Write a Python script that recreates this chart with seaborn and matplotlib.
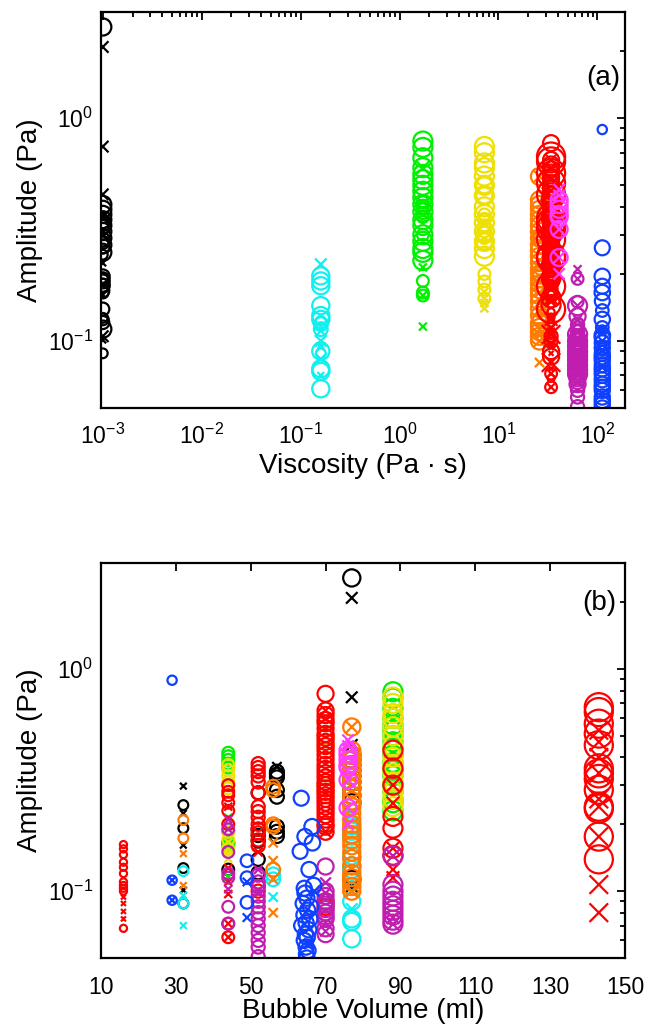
import numpy as np
import pandas as pd
import matplotlib
matplotlib.use("Agg")
import matplotlib.pyplot as plt
import seaborn as sns
from matplotlib.ticker import LogLocator, NullFormatter, FixedLocator, LogFormatterSciNotation

sns.set_theme(style="white")
plt.rcParams["font.family"] = ["Liberation Sans", "DejaVu Sans"]
plt.rcParams["mathtext.fontset"] = "custom"
plt.rcParams["mathtext.rm"] = "Liberation Sans"
plt.rcParams["mathtext.it"] = "Liberation Sans:italic"
plt.rcParams["mathtext.bf"] = "Liberation Sans:bold"
plt.rcParams["text.color"] = "black"
plt.rcParams["axes.labelcolor"] = "black"
plt.rcParams["xtick.color"] = "black"
plt.rcParams["ytick.color"] = "black"

# ---------------- data ----------------
fluids = ["black", "cyan", "green", "yellow", "orange", "red", "magenta", "purple", "blue"]
viscosity = [0.001, 0.16, 1.72, 7.2, 26.0, 34.0, 41.0, 63.0, 112.0]  # Pa s
colors = ["#000000", "#10f0f0", "#00f000", "#eee000", "#ff7a00", "#ff0000", "#ff3cff", "#c01eb0", "#1040ff"]

black_vol = [32, 32, 32, 32, 32, 32, 32, 32, 44, 44, 52, 52, 52, 52, 52, 52,
             57, 57, 57, 57, 57, 57, 57, 57, 57,
             77, 77, 77, 77, 77, 77, 77, 77, 77, 77, 77, 77, 77, 77, 77]
black_amp = [0.297, 0.244, 0.224, 0.192, 0.161, 0.127, 0.101, 0.088, 0.165, 0.125,
             0.277, 0.19, 0.178, 0.168, 0.139, 0.121,
             0.363, 0.345, 0.335, 0.325, 0.285, 0.266, 0.195, 0.185, 0.177,
             2.57, 2.09, 0.746, 0.455, 0.41, 0.39, 0.37, 0.35, 0.33, 0.31, 0.29, 0.27, 0.25, 0.113, 0.105]
black_mk = "xoxoxoxo" + "oo" + "oooooo" + "xoooooooo" + "oxxxoooooooooox"

cyan_vol = [32, 32, 32, 32, 56, 56, 56,
            77, 77, 77, 77, 77, 77, 77, 77, 77, 77, 77, 77, 77, 77]
cyan_amp = [0.123, 0.0957, 0.088, 0.07, 0.119, 0.113, 0.094,
            0.221, 0.196, 0.186, 0.177, 0.144, 0.13, 0.125, 0.111, 0.1, 0.09, 0.083, 0.075, 0.073, 0.061]
cyan_mk = "oxox" + "oox" + "xooooooxxoxooo"

green_vol = [44, 44, 44, 44, 44, 44, 44, 44, 44, 44, 44, 44,
             88, 88, 88, 88, 88, 88, 88, 88, 88, 88, 88, 88, 88, 88, 88, 88, 88, 88, 88]
green_amp = [0.42, 0.405, 0.39, 0.375, 0.36, 0.3, 0.186, 0.165, 0.16, 0.16, 0.116, 0.214,
             0.79, 0.74, 0.665, 0.6, 0.56, 0.53, 0.5, 0.47, 0.44, 0.41, 0.38, 0.35, 0.33, 0.3,
             0.28, 0.26, 0.25, 0.23, 0.6]
green_mk = "oooooooooxxx" + "oooooooooooooooooox"

yellow_vol = [44, 44, 44, 44, 44, 44, 44, 44, 44, 44, 44, 44, 44,
              70, 70, 70, 70,
              88, 88, 88, 88, 88, 88, 88, 88, 88, 88, 88, 88, 88, 88]
yellow_amp = [0.37, 0.35, 0.33, 0.31, 0.29, 0.2, 0.185, 0.17, 0.155, 0.166, 0.155, 0.148, 0.14,
              0.5, 0.45, 0.3, 0.28,
              0.747, 0.7, 0.63, 0.6, 0.55, 0.5, 0.45, 0.4, 0.37, 0.34, 0.31, 0.28, 0.26, 0.24]
yellow_mk = "oooooooooxxxx" + "oooo" + "oooooooooooooo"

orange_vol = [32, 32, 32, 32,
              56, 56, 56, 56, 56, 56, 56, 56, 56,
              77, 77, 77, 77, 77, 77, 77, 77, 77, 77, 77, 77, 77, 77, 77, 77, 77, 77,
              77, 77, 77, 77, 77, 77, 77, 77, 77, 77, 77]
orange_amp = [0.209, 0.173, 0.1475, 0.106,
              0.295, 0.285, 0.2, 0.195, 0.165, 0.137, 0.125, 0.113, 0.08,
              0.548, 0.548, 0.43, 0.41, 0.39, 0.37, 0.35, 0.33, 0.31, 0.29, 0.27, 0.255, 0.24, 0.225,
              0.21, 0.2, 0.19, 0.18, 0.17, 0.16, 0.15, 0.14, 0.13, 0.12, 0.115, 0.11, 0.105, 0.1,
              0.1, 0.065, 0.07]
orange_mk = "ooxx" + "ooooxxoxx" + "ox" + "oooooooooooooooooooooooooo" + "xxx"

red_vol = [16, 16, 16, 16, 16, 16, 16, 16, 16, 16, 16, 16, 16, 16, 16,
           44, 44, 44, 44, 44, 44, 44, 44, 44, 44, 44, 44, 44, 44,
           52, 52, 52, 52, 52, 52, 52, 52, 52, 52, 52, 52, 52, 52, 52, 52, 52,
           70, 70, 70, 70, 70, 70, 70, 70, 70, 70, 70, 70, 70, 70, 70, 70, 70, 70, 70, 70,
           70, 70, 70, 70, 70, 70, 70, 70, 70, 70, 70, 70, 70, 70, 70, 70,
           88, 88, 88, 88, 88, 88, 88, 88, 88, 88, 88, 88,
           143, 143, 143, 143, 143, 143, 143, 143, 143, 143, 143, 143, 143,
           143, 143, 143, 143, 143, 143, 143, 143, 143]
red_amp = [0.162, 0.155, 0.146, 0.135, 0.128, 0.12, 0.11, 0.106, 0.103, 0.1, 0.094, 0.088, 0.081, 0.075, 0.068,
           0.3, 0.28, 0.27, 0.25, 0.24, 0.23, 0.2, 0.127, 0.11, 0.097, 0.0714, 0.0714, 0.062, 0.062,
           0.375, 0.36, 0.345, 0.33, 0.31, 0.277, 0.24, 0.228, 0.215, 0.2, 0.19, 0.183, 0.17, 0.16, 0.15, 0.105, 0.1,
           0.773, 0.65, 0.65, 0.62, 0.59, 0.6, 0.57, 0.54, 0.51, 0.49, 0.47, 0.45, 0.43, 0.41, 0.39, 0.37,
           0.355, 0.34, 0.325, 0.31, 0.3, 0.29, 0.28, 0.27, 0.26, 0.25, 0.24, 0.23, 0.22, 0.21, 0.2, 0.195,
           0.185, 0.185, 0.09, 0.085,
           0.431, 0.357, 0.3, 0.3, 0.249, 0.217, 0.192, 0.156, 0.156, 0.145, 0.125, 0.115,
           0.673, 0.64, 0.567, 0.512, 0.454, 0.357, 0.339, 0.32, 0.286, 0.24, 0.235, 0.176, 0.139,
           0.53, 0.47, 0.4, 0.34, 0.26, 0.24, 0.176, 0.107, 0.08]
red_mk = ("ooooooooooxxxxo" + "ooooxooxxxoxox" + "ooooooooooooooxoo"
          + "ooxooxoooooooooooooooooooooooooo" + "oxoo"
          + "oooxxoooxoxx" + "ooooooooooooo" + "xxxxxxxxx")

magenta_vol = [76, 76, 76, 76, 76, 76, 76, 76, 76, 76, 76, 76]
magenta_amp = [0.478, 0.45, 0.43, 0.41, 0.39, 0.37, 0.36, 0.317, 0.317, 0.237, 0.237, 0.2]
magenta_mk = "xxooooooxoxx"

purple_vol = [44, 44, 44, 44, 44, 44, 44, 44, 44,
              52, 52, 52, 52, 52, 52, 52, 52, 52, 52, 52, 52, 52, 52, 52,
              70, 70, 70, 70, 70, 70, 70, 70, 70, 70, 70, 70, 70, 70, 70,
              88, 88, 88, 88, 88, 88, 88, 88, 88, 88, 88, 88, 88]
purple_amp = [0.21, 0.19, 0.19, 0.15, 0.12, 0.115, 0.102, 0.085, 0.0714,
              0.125, 0.118, 0.11, 0.105, 0.1, 0.095, 0.09, 0.085, 0.08, 0.075, 0.07, 0.065, 0.06, 0.056, 0.0507,
              0.129, 0.109, 0.1, 0.098, 0.095, 0.09, 0.087, 0.083, 0.08, 0.077, 0.075, 0.072, 0.068, 0.066, 0.064,
              0.144, 0.144, 0.107, 0.1, 0.095, 0.09, 0.086, 0.082, 0.078, 0.076, 0.074, 0.071, 0.071]
purple_mk = "xoxoooxoo" + "xoooxoooooooooo" + "oxoxoooooooxoxo" + "oxoooooooxoox"

blue_vol = [29, 29, 29, 29, 29, 49, 49, 49, 49, 49,
            63.5, 66.4, 64.5, 66.5, 63.2, 65.6, 66.8, 64.3, 67.0, 64.5, 65.0, 64.0, 66.0, 65.2,
            64.2, 65.8, 64.8, 63.6, 65.5, 64.6, 65.1, 64.3, 65.6, 64.8, 65.3, 64.9, 65.0]
blue_amp = [0.89, 0.112, 0.112, 0.091, 0.091, 0.137, 0.115, 0.11, 0.089, 0.076,
            0.262, 0.195, 0.176, 0.165, 0.151, 0.125, 0.106, 0.103, 0.1, 0.098, 0.093, 0.088, 0.085, 0.082,
            0.078, 0.075, 0.072, 0.07, 0.067, 0.064, 0.062, 0.06, 0.058, 0.056, 0.054, 0.052, 0.05]
blue_mk = "ooxox" + "ooxox" + "ooooooooxoooooooooooooxoooo"

vols = [black_vol, cyan_vol, green_vol, yellow_vol, orange_vol, red_vol, magenta_vol, purple_vol, blue_vol]
amps = [black_amp, cyan_amp, green_amp, yellow_amp, orange_amp, red_amp, magenta_amp, purple_amp, blue_amp]
mks = [black_mk, cyan_mk, green_mk, yellow_mk, orange_mk, red_mk, magenta_mk, purple_mk, blue_mk]

frames = []
for f, visc, v, a, m in zip(fluids, viscosity, vols, amps, mks):
    n = min(len(v), len(a), len(m))
    frames.append(pd.DataFrame({"fluid": f, "visc": visc, "vol": v[:n], "amp": a[:n], "mk": list(m[:n])}))
data = pd.concat(frames, ignore_index=True)


def marker_area(v, mk):
    d = 4.5 + 0.165 * v
    if mk == "x":
        d = 0.65 * (5.0 + 0.165 * v)
    return (d * 0.72) ** 2


# ---------------- figure ----------------
fig = plt.figure(figsize=(6.45, 10.27), dpi=100)
axA = fig.add_axes([101 / 645, 1 - 408 / 1027, 524 / 645, 396 / 1027])
axB = fig.add_axes([101 / 645, 1 - 958 / 1027, 524 / 645, 395 / 1027])

for ax, xcol in ((axA, "visc"), (axB, "vol")):
    for f, c in zip(fluids, colors):
        for mk in ("o", "x"):
            sub = data[(data.fluid == f) & (data.mk == mk)]
            if sub.empty:
                continue
            sizes = {v: marker_area(v, mk) for v in sub.vol.unique()}
            kw = dict(facecolors="none", edgecolor=c) if mk == "o" else {}
            sns.scatterplot(data=sub, x=xcol, y="amp", size="vol", sizes=sizes,
                            marker=mk, color=c, linewidth=1.6, legend=False, ax=ax, **kw)

for ax in (axA, axB):
    ax.set_yscale("log")
    ax.set_ylim(0.05, 3.0)
    ax.yaxis.set_major_locator(LogLocator(base=10, numticks=10))
    ax.yaxis.set_minor_locator(LogLocator(base=10, subs=np.arange(2, 10), numticks=10))
    ax.yaxis.set_minor_formatter(NullFormatter())
    ax.yaxis.set_major_formatter(LogFormatterSciNotation())
    ax.tick_params(which="both", direction="in", top=True, right=True, width=1.3, colors="black",
                   labelsize=16.5)
    ax.tick_params(axis="y", pad=6)
    ax.tick_params(which="major", length=6)
    ax.tick_params(which="minor", length=3.5)
    for s in ax.spines.values():
        s.set_linewidth(1.6)
        s.set_color("black")
    ax.set_ylabel("Amplitude (Pa)", fontsize=20, labelpad=3)
    ax.grid(False)

axA.set_xscale("log")
axA.set_xlim(0.00096, 190)
axA.xaxis.set_major_locator(LogLocator(base=10, numticks=10))
axA.xaxis.set_minor_locator(LogLocator(base=10, subs=np.arange(2, 10), numticks=10))
axA.xaxis.set_minor_formatter(NullFormatter())
axA.tick_params(axis="x", pad=11)
axA.set_xlabel("Viscosity (Pa \u00b7 s)", fontsize=20, labelpad=3)
axA.text(0.992, 0.833, "(a)", transform=axA.transAxes, ha="right", va="center", fontsize=20)

axB.set_xlim(10, 150)
axB.xaxis.set_major_locator(FixedLocator([10, 30, 50, 70, 90, 110, 130, 150]))
axB.tick_params(axis="x", pad=13)
axB.set_xlabel("Bubble Volume (ml)", fontsize=20, labelpad=-1)
axB.text(0.983, 0.899, "(b)", transform=axB.transAxes, ha="right", va="center", fontsize=20)

fig.savefig("out.png", dpi=100)
